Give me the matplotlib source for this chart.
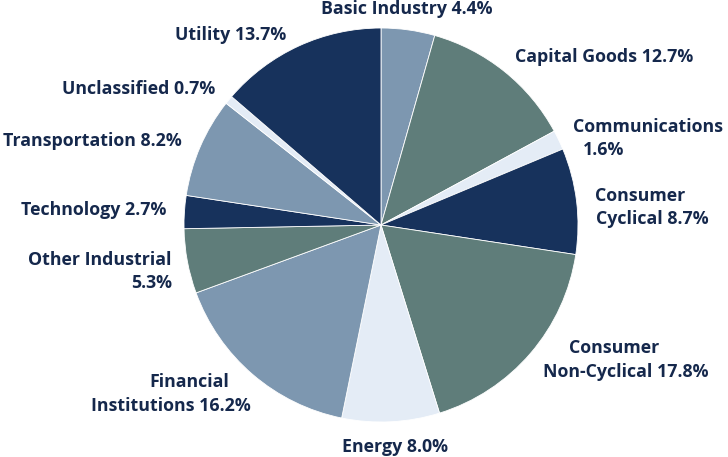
import matplotlib.pyplot as plt

sectors = ["Basic Industry", "Capital Goods", "Communications", "Consumer Cyclical",
           "Consumer Non-Cyclical", "Energy", "Financial Institutions", "Other Industrial",
           "Technology", "Transportation", "Unclassified", "Utility"]
shares = [4.4, 12.7, 1.6, 8.7, 17.8, 8.0, 16.2, 5.3, 2.7, 8.2, 0.7, 13.7]

navy = '#17325c'
steel = '#7d97b0'
green = '#5f7d7a'
light = '#e4ecf6'
colors = [steel, green, light, navy, green, light, steel, green, navy, steel, light, navy]

W, H = 728, 457
fig = plt.figure(figsize=(W / 100, H / 100), dpi=100)
# pie centre ~(381, 225) px, radius ~197 px
ax = fig.add_axes([184 / W, (H - 422) / H, 394 / W, 394 / H])
ax.pie(shares, colors=colors, startangle=90, counterclock=False, radius=1,
       wedgeprops=dict(edgecolor='white', linewidth=0.6))
ax.set_xlim(-1, 1)
ax.set_ylim(-1, 1)
ax.set_aspect('equal')
ax.axis('off')

txt_color = '#15284c'
font = dict(family='Open Sans', weight='bold', size=12.8, color=txt_color)

def label(x, y, s, ha):
    fig.text(x / W, 1 - y / H, s, ha=ha, va='center', **font)

# label texts, built from the data, positioned around the pie
lab = {n: f"{n} {v}%" for n, v in zip(sectors, shares)}
label(407, 9, lab["Basic Industry"], 'center')
label(515, 57, lab["Capital Goods"], 'left')
label(573, 127, "Communications", 'left')
label(583, 150, f"{shares[2]}%", 'left')
label(595, 196, "Consumer", 'left')
label(596, 219, f"Cyclical {shares[3]}%", 'left')
label(614, 348, "Consumer", 'center')
label(626, 372, f"Non-Cyclical {shares[4]}%", 'center')
label(395, 447, lab["Energy"], 'center')
label(189, 382, "Financial", 'center')
label(171, 406, f"Institutions {shares[6]}%", 'center')
label(171, 260, "Other Industrial", 'right')
label(172, 283, f"{shares[7]}%", 'right')
label(166, 210, lab["Technology"], 'right')
label(182, 141, lab["Transportation"], 'right')
label(215, 89, lab["Unclassified"], 'right')
label(286, 35, lab["Utility"], 'right')

fig.savefig('out.png', dpi=100)
